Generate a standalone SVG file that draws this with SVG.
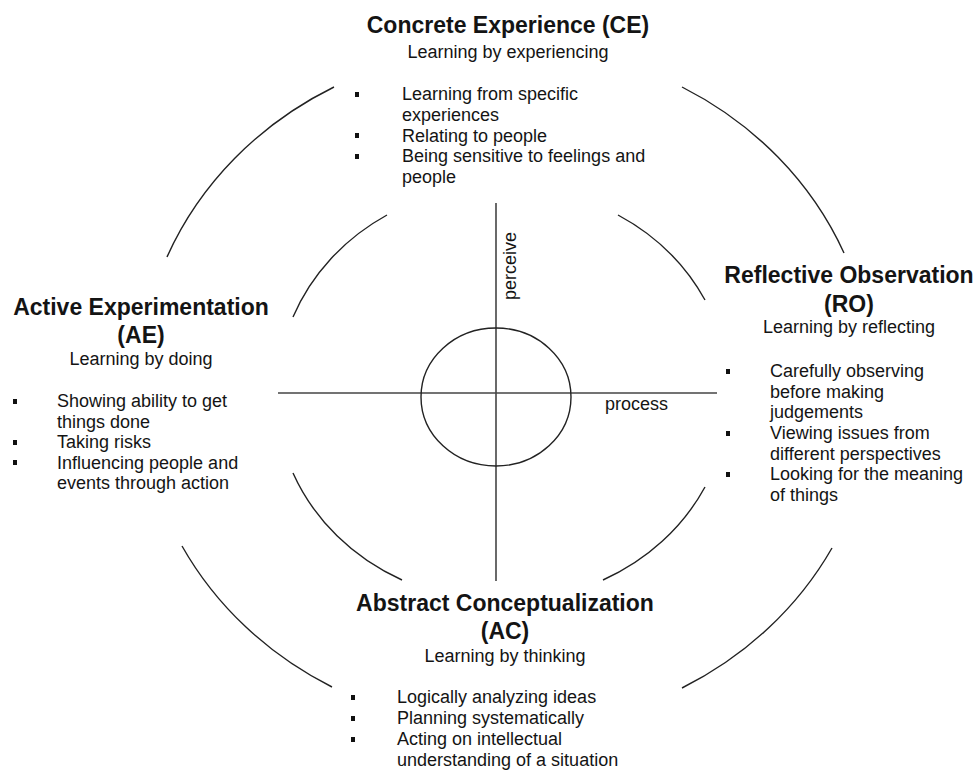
<svg xmlns="http://www.w3.org/2000/svg" width="979" height="770" viewBox="0 0 979 770">
  <style>
    text { font-family: "Liberation Sans", Arial, sans-serif; fill: #141414; }
    .title { font-size: 23px; font-weight: bold; text-anchor: middle; }
    .sub { font-size: 18px; text-anchor: middle; }
    .item { font-size: 18px; }
    .axis-label { font-size: 18px; }
    .arc { fill: none; stroke: #222; stroke-width: 1.4; }
    .axis { fill: none; stroke: #444; stroke-width: 1.6; }
    .bullet { fill: #111; }
  </style>
  <rect width="979" height="770" fill="#ffffff"/>

  <!-- cycle rings and perceive/process axes -->
  <g id="connectors">
    <!-- outer ring, broken at the four headings -->
    <path class="arc" d="M167,257 A367,340 0 0 1 334,87"/>
    <path class="arc" d="M682,87 A367,340 0 0 1 844,253"/>
    <path class="arc" d="M832,548 A367,340 0 0 1 682,688"/>
    <path class="arc" d="M332,687 A367,340 0 0 1 182,546"/>
    <!-- inner ring -->
    <path class="arc" d="M293,317 A223,208 0 0 1 387,215"/>
    <path class="arc" d="M618,215 A223,208 0 0 1 705,300"/>
    <path class="arc" d="M705,487 A223,208 0 0 1 603,580"/>
    <path class="arc" d="M402,580 A223,208 0 0 1 293,473"/>
    <!-- axes -->
    <line class="axis" x1="496" y1="203" x2="496" y2="581"/>
    <line class="axis" x1="278" y1="393" x2="717" y2="393"/>
  </g>

  <g id="centre">
    <ellipse class="arc" cx="496" cy="397" rx="75" ry="69"/>
    <text class="axis-label" transform="translate(516,300) rotate(-90)">perceive</text>
    <text class="axis-label" x="605" y="410">process</text>
  </g>

  <!-- Concrete Experience -->
  <g id="ce">
    <text class="title" x="508" y="33">Concrete Experience (CE)</text>
    <text class="sub" x="508" y="58">Learning by experiencing</text>
    <rect class="bullet" x="355" y="92" width="4" height="5"/>
    <rect class="bullet" x="355" y="133" width="4" height="5"/>
    <rect class="bullet" x="355" y="154" width="4" height="5"/>
    <text class="item" x="402" y="100">Learning from specific</text>
    <text class="item" x="402" y="120.7">experiences</text>
    <text class="item" x="402" y="141.5">Relating to people</text>
    <text class="item" x="402" y="162.3">Being sensitive to feelings and</text>
    <text class="item" x="402" y="183">people</text>
  </g>

  <!-- Reflective Observation -->
  <g id="ro">
    <text class="title" x="849" y="283">Reflective Observation</text>
    <text class="title" x="849" y="311.5">(RO)</text>
    <text class="sub" x="849" y="333">Learning by reflecting</text>
    <rect class="bullet" x="726" y="369" width="4" height="5"/>
    <rect class="bullet" x="726" y="431" width="4" height="5"/>
    <rect class="bullet" x="726" y="472" width="4" height="5"/>
    <text class="item" x="770" y="377">Carefully observing</text>
    <text class="item" x="770" y="397.7">before making</text>
    <text class="item" x="770" y="418.3">judgements</text>
    <text class="item" x="770" y="439">Viewing issues from</text>
    <text class="item" x="770" y="459.7">different perspectives</text>
    <text class="item" x="770" y="480.3">Looking for the meaning</text>
    <text class="item" x="770" y="501">of things</text>
  </g>

  <!-- Abstract Conceptualization -->
  <g id="ac">
    <text class="title" x="505" y="610.5">Abstract Conceptualization</text>
    <text class="title" x="505" y="639">(AC)</text>
    <text class="sub" x="505" y="661.5">Learning by thinking</text>
    <rect class="bullet" x="351" y="695" width="4" height="5"/>
    <rect class="bullet" x="351" y="716" width="4" height="5"/>
    <rect class="bullet" x="351" y="737" width="4" height="5"/>
    <text class="item" x="397" y="703">Logically analyzing ideas</text>
    <text class="item" x="397" y="723.5">Planning systematically</text>
    <text class="item" x="397" y="745">Acting on intellectual</text>
    <text class="item" x="397" y="765.5">understanding of a situation</text>
  </g>

  <!-- Active Experimentation -->
  <g id="ae">
    <text class="title" x="141" y="315">Active Experimentation</text>
    <text class="title" x="141" y="342.5">(AE)</text>
    <text class="sub" x="141" y="365">Learning by doing</text>
    <rect class="bullet" x="13" y="399" width="4" height="5"/>
    <rect class="bullet" x="13" y="440" width="4" height="5"/>
    <rect class="bullet" x="13" y="460" width="4" height="5"/>
    <text class="item" x="57" y="407">Showing ability to get</text>
    <text class="item" x="57" y="427.5">things done</text>
    <text class="item" x="57" y="448">Taking risks</text>
    <text class="item" x="57" y="468.5">Influencing people and</text>
    <text class="item" x="57" y="489">events through action</text>
  </g>
</svg>
